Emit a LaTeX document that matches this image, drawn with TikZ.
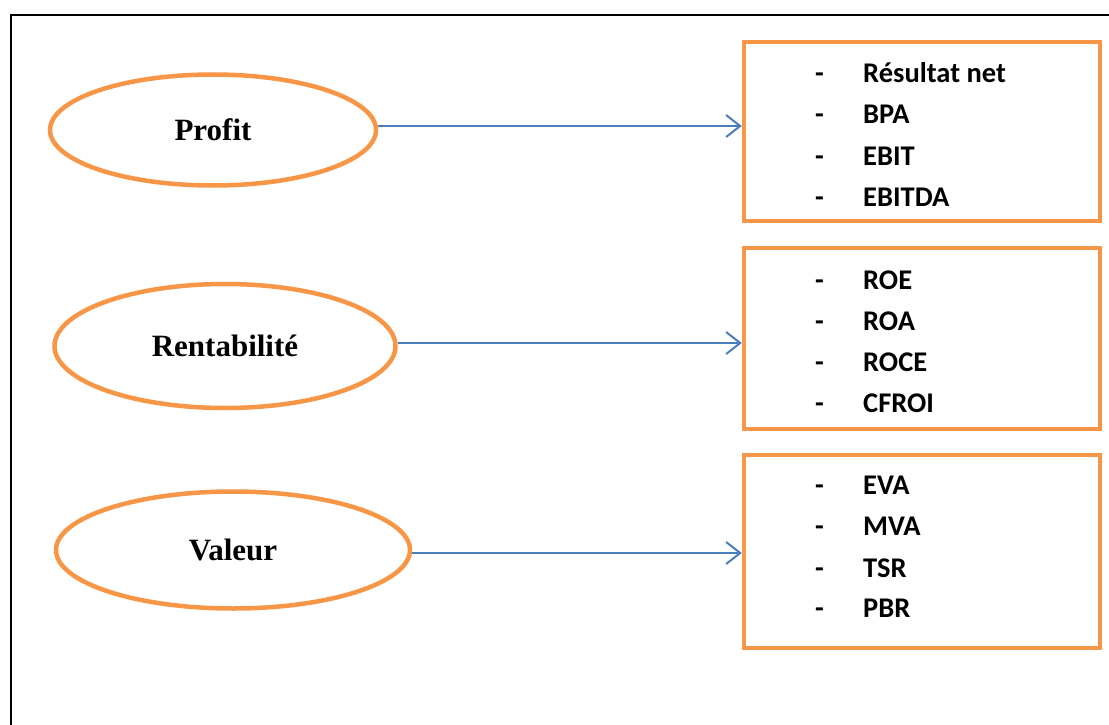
\documentclass[tikz,border=0pt]{standalone}
\usepackage{fontspec}
\setmainfont{Liberation Serif}
\newfontfamily\calibri{Carlito}
\usetikzlibrary{arrows.meta,shapes.geometric}
\definecolor{orangeline}{HTML}{F79646}
\definecolor{blueline}{HTML}{4A7EBB}

\begin{document}
\begin{tikzpicture}[x=1pt,y=-1pt,
    oval/.style={ellipse,draw=orangeline,line width=4.5pt,inner sep=0pt,
      font=\fontsize{31}{36}\selectfont\bfseries},
    listbox/.style={rectangle,draw=orangeline,line width=4.5pt,inner sep=0pt},
    item/.style={anchor=base west,inner sep=0pt,
      font=\calibri\fontsize{28.5}{34}\selectfont\bfseries},
    link/.style={draw=blueline,line width=2pt,
      -{Straight Barb[length=14pt,width=22pt,line width=2pt]}}]
    \useasboundingbox (0,0) rectangle (1109,725);
    %\draw[help lines] (0,0) grid[step=100] (1109,725);
    \draw[line width=2pt] (11,725) -- (11,15) -- (1109,15);
    % les trois familles
    \node[oval,minimum width=326pt,minimum height=111pt] (P) at (213,130) {Profit};
    \node[oval,minimum width=341pt,minimum height=124pt] (R) at (225,346) {Rentabilité};
    \node[oval,minimum width=354pt,minimum height=117pt] (V) at (233,550) {Valeur};
    % les indicateurs
    \node[listbox,minimum width=356pt,minimum height=179pt] (B1) at (922,131.5) {};
    \node[listbox,minimum width=356pt,minimum height=181pt] (B2) at (922,338.5) {};
    \node[listbox,minimum width=356pt,minimum height=193pt] (B3) at (922,551.5) {};
    \node[item] (p1) at (815,82) {\makebox[48pt][l]{-}Résultat net};
    \node[item] (p2) at (815,123.5) {\makebox[48pt][l]{-}BPA};
    \node[item] (p3) at (815,165) {\makebox[48pt][l]{-}EBIT};
    \node[item] (p4) at (815,206) {\makebox[48pt][l]{-}EBITDA};
    \node[item] (r1) at (815,289) {\makebox[48pt][l]{-}ROE};
    \node[item] (r2) at (815,330) {\makebox[48pt][l]{-}ROA};
    \node[item] (r3) at (815,371) {\makebox[48pt][l]{-}ROCE};
    \node[item] (r4) at (815,412) {\makebox[48pt][l]{-}CFROI};
    \node[item] (v1) at (815,494) {\makebox[48pt][l]{-}EVA};
    \node[item] (v2) at (815,535) {\makebox[48pt][l]{-}MVA};
    \node[item] (v3) at (815,577) {\makebox[48pt][l]{-}TSR};
    \node[item] (v4) at (815,617) {\makebox[48pt][l]{-}PBR};
    % fleches
    \draw[link] ([yshift=4pt]P.east) -- ([yshift=4pt]P.east -| B1.west);
    \draw[link] ([yshift=3pt]R.east) -- ([yshift=3pt]R.east -| B2.west);
    \draw[link] ([yshift=-3pt]V.east) -- ([yshift=-3pt]V.east -| B3.west);
\end{tikzpicture}
\end{document}
